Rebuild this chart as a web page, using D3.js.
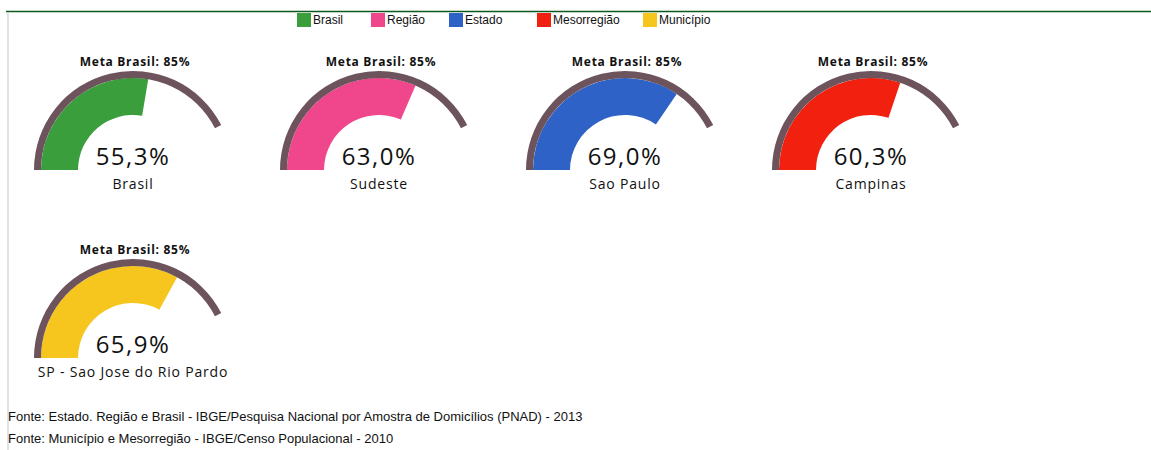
<!DOCTYPE html>
<html>
<head>
<meta charset="utf-8">
<script src="https://cdn.jsdelivr.net/npm/d3@7"></script>
<style>
  html, body { margin: 0; padding: 0; background: #ffffff; }
  svg { display: block; }
</style>
</head>
<body>
<svg id="chart" width="1151" height="450"></svg>
<script>
// ---- data ----
const categories = ["Brasil", "Região", "Estado", "Mesorregião", "Município"];
const places = ["Brasil", "Sudeste", "Sao Paulo", "Campinas", "SP - Sao Jose do Rio Pardo"];
const values = [55.3, 63.0, 69.0, 60.3, 65.9];
const target = 85;
const targetLabel = "Meta Brasil: 85%";
const colors = ["#3a9e3c", "#f0468c", "#2f62c6", "#f2200f", "#f7c61e"];
const notes = [
  "Fonte: Estado. Região e Brasil - IBGE/Pesquisa Nacional por Amostra de Domicílios (PNAD) - 2013",
  "Fonte: Município e Mesorregião - IBGE/Censo Populacional - 2010"
];

const svg = d3.select("#chart");
const fmt = d3.formatLocale({decimal: ",", thousands: ".", grouping: [3], currency: ["R$", ""]}).format(".1f");

// frame lines
svg.append("line").attr("x1", 6).attr("x2", 1151).attr("y1", 11.5).attr("y2", 11.5)
  .attr("stroke", "#0b5a1c").attr("stroke-width", 1.6);
svg.append("line").attr("x1", 8).attr("x2", 8).attr("y1", 12).attr("y2", 450)
  .attr("stroke", "#cfcfcf").attr("stroke-width", 1.2);

// legend
const legendX = [297, 371, 449, 537, 643];
const lg = svg.append("g").selectAll("g").data(categories).join("g")
  .attr("transform", (d, i) => `translate(${legendX[i]},13)`);
lg.append("rect").attr("width", 14).attr("height", 14).attr("fill", (d, i) => colors[i]);
lg.append("text").attr("x", 16).attr("y", 11)
  .attr("font-family", "Liberation Sans, Arial, sans-serif").attr("font-size", 12)
  .attr("fill", "#111").text(d => d);

// gauges
const angle = d3.scaleLinear().domain([0, 100]).range([-Math.PI / 2, Math.PI / 2]);
const col = i => i % 4, row = i => Math.floor(i / 4);
const cxS = d3.scaleLinear().domain([0, 1]).range([133, 379]);
const cyS = d3.scaleLinear().domain([0, 1]).range([170, 358]);

const targetArc = d3.arc().innerRadius(92).outerRadius(99)
  .startAngle(angle(0)).endAngle(angle(target));
const valueArc = d3.arc().innerRadius(55).outerRadius(92)
  .startAngle(angle(0)).endAngle(d => angle(d));

const g = svg.append("g").selectAll("g").data(values).join("g")
  .attr("transform", (d, i) => `translate(${cxS(col(i))},${cyS(row(i))})`);

g.append("path").attr("d", d => valueArc(d)).attr("fill", (d, i) => colors[i]);
g.append("path").attr("d", targetArc()).attr("fill", "#6c535c");

const font = "'Open Sans', 'Noto Sans', sans-serif";
g.append("text").attr("x", 2).attr("y", -104).attr("text-anchor", "middle")
  .attr("font-family", font).attr("font-size", 12).attr("font-weight", "bold")
  .attr("letter-spacing", 0.7)
  .attr("fill", "#111").text(targetLabel);
g.append("text").attr("x", 0).attr("y", -5).attr("text-anchor", "middle")
  .attr("font-family", font).attr("font-size", 24).attr("letter-spacing", 1.5)
  .attr("fill", "#111").text(d => fmt(d) + "%");
g.append("text").attr("x", 0).attr("y", 19).attr("text-anchor", "middle")
  .attr("font-family", font).attr("font-size", 14).attr("letter-spacing", 0.8)
  .attr("fill", "#111").text((d, i) => places[i]);

// footnotes
svg.append("g").selectAll("text").data(notes).join("text")
  .attr("x", 8).attr("y", (d, i) => 421 + i * 22)
  .attr("font-family", "Liberation Sans, Arial, sans-serif").attr("font-size", 13)
  .attr("fill", "#111").text(d => d);
</script>
</body>
</html>
